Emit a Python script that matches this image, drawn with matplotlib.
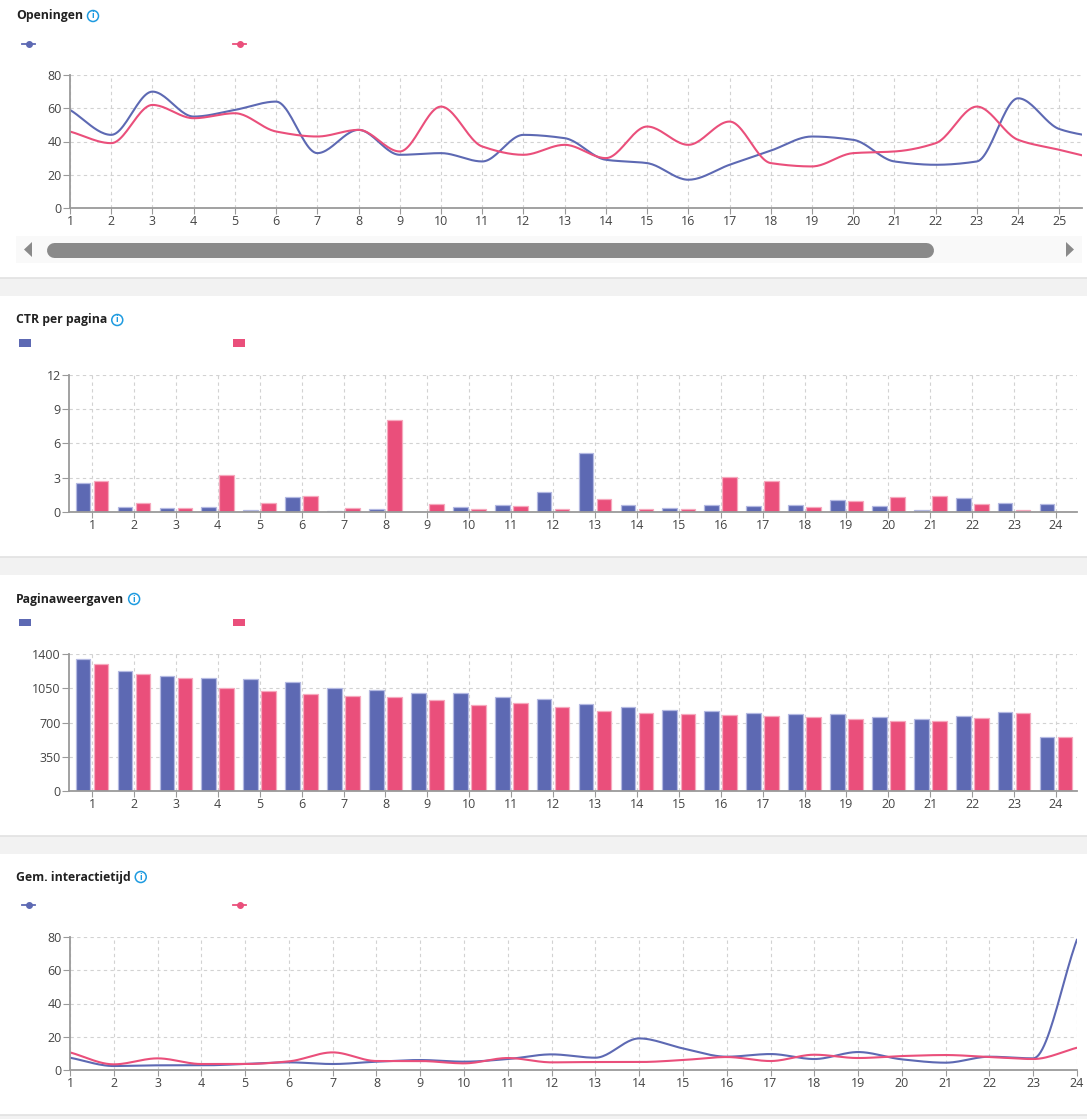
import numpy as np
import matplotlib
matplotlib.use('Agg')
import matplotlib.pyplot as plt
from matplotlib.patches import Rectangle, Polygon, Ellipse
from matplotlib.lines import Line2D

plt.rcParams['font.family'] = ['Open Sans', 'DejaVu Sans']

W, H = 1087, 1119
BLUE = '#5d69b3'
PINK = '#ea4f7b'
BLUE_EDGE = '#b4b9e2'
PINK_EDGE = '#f6a9be'

# Openingen (day 26 lies just past the visible scroll window)
open_days = list(range(1, 27))
open_blue = [59, 44, 70, 55, 59, 64, 33, 47, 32, 33, 28, 44, 42, 29, 27, 17,
             26, 34.5, 43, 41, 28, 26, 28, 66, 47.5, 42]
open_pink = [46, 39, 62, 54, 57, 46, 43, 47, 34, 61, 37, 32, 38, 30, 49, 38,
             52, 27, 25, 33, 34, 39, 61, 41, 35, 29]

days = list(range(1, 25))
# CTR per pagina
ctr_blue = [2.5, 0.44, 0.35, 0.44, 0.17, 1.28, 0.09, 0.26, 0.0, 0.41, 0.61, 1.72,
            5.2, 0.58, 0.35, 0.61, 0.52, 0.64, 1.02, 0.52, 0.15, 1.19, 0.76, 0.7]
ctr_pink = [2.7, 0.76, 0.35, 3.23, 0.79, 1.43, 0.32, 8.04, 0.67, 0.23, 0.55, 0.23,
            1.1, 0.23, 0.23, 3.1, 2.74, 0.41, 0.93, 1.28, 1.4, 0.67, 0.15, 0.0]
# Paginaweergaven
pv_blue = [1352, 1222, 1171, 1151, 1144, 1117, 1055, 1035, 1000, 1000, 959, 939,
           888, 854, 823, 816, 792, 785, 782, 761, 738, 765, 806, 550]
pv_pink = [1294, 1198, 1154, 1055, 1021, 987, 973, 959, 932, 878, 895, 860,
           813, 796, 785, 772, 765, 761, 738, 714, 720, 744, 802, 553]
# Gem. interactietijd
it_blue = [7.4, 2.4, 2.8, 2.8, 3.6, 4.6, 3.6, 5, 6, 5, 6.6, 9.4,
           7.4, 19, 13, 8, 9.6, 6.6, 10.8, 6.4, 4.4, 8, 7, 78.5]
it_pink = [10.6, 3.4, 7, 3.6, 3.6, 5.2, 10.6, 5.4, 5.4, 4, 7.2, 4.6,
           4.8, 4.8, 6, 7.8, 5.4, 9.2, 7.2, 8.4, 9, 7.8, 6.6, 13.4]


def smooth(x, y, n=24):
    """Monotone cubic curve through the points (equal spacing), for drawing only."""
    x = np.asarray(x, float)
    y = np.asarray(y, float)
    d = np.diff(y)
    m = np.zeros_like(y)
    m[0], m[-1] = d[0], d[-1]
    for k in range(1, len(y) - 1):
        if d[k - 1] * d[k] > 0:
            m[k] = 2.0 / (1.0 / d[k - 1] + 1.0 / d[k])
    t = np.linspace(0, 1, n, endpoint=False)
    h00 = 2 * t ** 3 - 3 * t ** 2 + 1
    h10 = t ** 3 - 2 * t ** 2 + t
    h01 = -2 * t ** 3 + 3 * t ** 2
    h11 = t ** 3 - t ** 2
    xs, ys = [], []
    for i in range(len(x) - 1):
        ys.append(h00 * y[i] + h10 * m[i] + h01 * y[i + 1] + h11 * m[i + 1])
        xs.append(x[i] + (x[i + 1] - x[i]) * t)
    xs.append([x[-1]])
    ys.append([y[-1]])
    return np.concatenate(xs), np.concatenate(ys)


def fx(px):
    return px / W


def fy(py):
    return 1 - py / H


def add_ax(l, t, r, b):
    return fig.add_axes([fx(l), fy(b), (r - l) / W, (b - t) / H])


def style_ax(ax):
    for s in ['top', 'right']:
        ax.spines[s].set_visible(False)
    ax.spines['left'].set_color('#9a9a9a')
    ax.spines['bottom'].set_color('#9a9a9a')
    ax.spines['left'].set_linewidth(1.3)
    ax.spines['bottom'].set_linewidth(1.3)
    ax.grid(True, linestyle=(0, (3, 3)), color='#d2d2d2', linewidth=0.8)
    ax.set_axisbelow(True)
    ax.tick_params(axis='both', colors='#9a9a9a', labelcolor='#444444', labelsize=9)
    ax.tick_params(axis='y', length=5, pad=1)
    ax.tick_params(axis='x', length=4, pad=1)


fig = plt.figure(figsize=(W / 100, H / 100), dpi=100, facecolor='#f2f2f2')

# white cards
for top, bot in [(0, 278), (296, 557), (575, 836), (854, 1115)]:
    fig.add_artist(Rectangle((0, fy(bot)), 1, (bot - top) / H, transform=fig.transFigure,
                             facecolor='white', edgecolor='none', zorder=-2))
    fig.add_artist(Line2D([0, 1], [fy(bot), fy(bot)], transform=fig.transFigure,
                          color='#e2e2e2', lw=1.2, zorder=-1))

titles = []
for txt, y in [('Openingen', 16), ('CTR per pagina', 320), ('Paginaweergaven', 599),
               ('Gem. interactietijd', 877)]:
    titles.append(fig.text(fx(16), fy(y), txt, fontsize=8.8, fontweight='bold',
                           color='#222222', va='center', ha='left'))


def line_key(x, y, color):
    fig.add_artist(Line2D([fx(x), fx(x + 13)], [fy(y), fy(y)], transform=fig.transFigure,
                          color=color, lw=1.3))
    fig.add_artist(Line2D([fx(x + 6.5)], [fy(y)], transform=fig.transFigure, color=color,
                          marker='o', ms=4, lw=0))


def bar_key(x, y, color):
    fig.add_artist(Rectangle((fx(x), fy(y + 3.5)), 12 / W, 7 / H, transform=fig.transFigure,
                             facecolor=color, edgecolor='none'))


line_key(22, 44, BLUE)
line_key(233, 44, PINK)
bar_key(19, 343, BLUE)
bar_key(233, 343, PINK)
bar_key(19, 622, BLUE)
bar_key(233, 622, PINK)
line_key(22, 905, BLUE)
line_key(233, 905, PINK)

# Openingen
ax1 = add_ax(70, 75, 1082, 208)
style_ax(ax1)
for vals, c in [(open_blue, BLUE), (open_pink, PINK)]:
    sx, sy = smooth(open_days, vals)
    ax1.plot(sx, sy, color=c, lw=1.5, solid_capstyle='round')
ax1.set_xlim(1, 25.55)
ax1.set_ylim(0, 80)
ax1.set_yticks([0, 20, 40, 60, 80])
ax1.set_xticks(range(1, 26))

# scrollbar
fig.add_artist(Rectangle((fx(16), fy(263)), (1082 - 16) / W, 27 / H, transform=fig.transFigure,
                         facecolor='#f9f9f9', edgecolor='none', zorder=0))
fig.add_artist(Line2D([fx(54), fx(926)], [fy(249.5), fy(249.5)], transform=fig.transFigure,
                      color='#8a8a8a', lw=10.8, solid_capstyle='round', zorder=1))
fig.add_artist(Polygon([(fx(24), fy(249.5)), (fx(32), fy(242)), (fx(32), fy(257))],
                       closed=True, transform=fig.transFigure, facecolor='#8a8a8a',
                       edgecolor='none', zorder=1))
fig.add_artist(Polygon([(fx(1074), fy(249.5)), (fx(1066), fy(242)), (fx(1066), fy(257))],
                       closed=True, transform=fig.transFigure, facecolor='#8a8a8a',
                       edgecolor='none', zorder=1))

# bar panels
x = np.array(days)
for box, vb, vp, yt in [((69, 375, 1077, 512), ctr_blue, ctr_pink, [0, 3, 6, 9, 12]),
                        ((69, 654, 1077, 791), pv_blue, pv_pink, [0, 350, 700, 1050, 1400])]:
    ax = add_ax(*box)
    style_ax(ax)
    ax.bar(x - 0.215, vb, width=0.35, color=BLUE, edgecolor=BLUE_EDGE, linewidth=0.9)
    ax.bar(x + 0.215, vp, width=0.35, color=PINK, edgecolor=PINK_EDGE, linewidth=0.9)
    ax.set_xlim(0.45, 24.5)
    ax.set_ylim(0, yt[-1])
    ax.set_yticks(yt)
    ax.set_xticks(days)

# Gem. interactietijd
ax4 = add_ax(70, 937, 1077, 1070)
style_ax(ax4)
for vals, c in [(it_blue, BLUE), (it_pink, PINK)]:
    sx, sy = smooth(days, vals)
    ax4.plot(sx, sy, color=c, lw=1.5, solid_capstyle='round')
ax4.set_xlim(1, 24)
ax4.set_ylim(0, 80)
ax4.set_yticks([0, 20, 40, 60, 80])
ax4.set_xticks(days)

# info icons after the titles
fig.canvas.draw()
for t in titles:
    bb = t.get_window_extent()
    cx = bb.x1 + 10
    cy = (bb.y0 + bb.y1) / 2
    fig.add_artist(Ellipse((cx / W, cy / H), 11 / W, 11 / H, transform=fig.transFigure,
                           facecolor='white', edgecolor='#1e9be0', lw=1.1))
    fig.text(cx / W, cy / H, 'i', fontsize=6.5, color='#1e9be0', ha='center', va='center',
             fontweight='bold')

fig.savefig('out.png', dpi=100, facecolor=fig.get_facecolor())
